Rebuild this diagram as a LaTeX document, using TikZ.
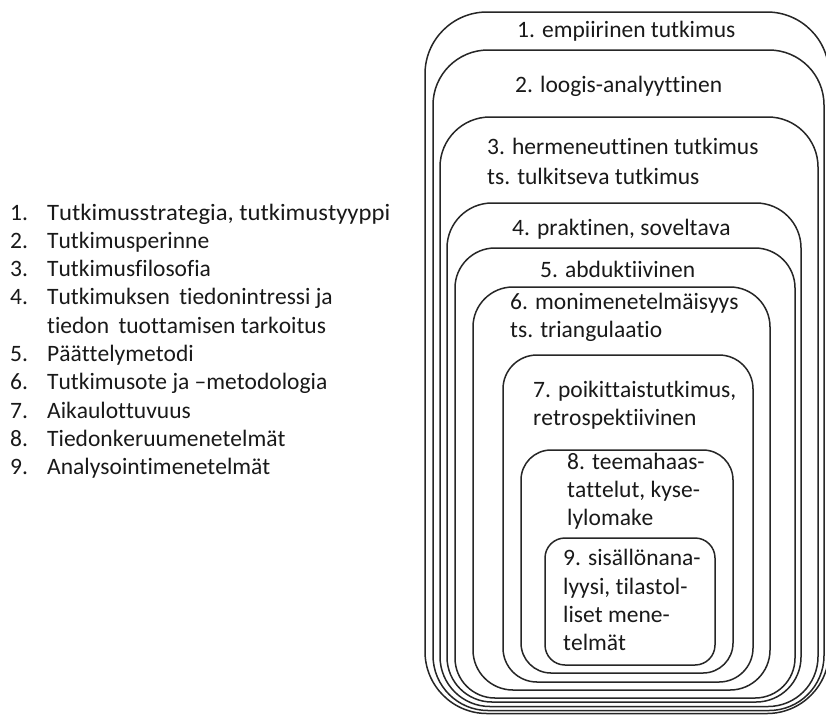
\documentclass[tikz,border=0pt]{standalone}
\usepackage{fontspec}
\setmainfont{Carlito}[Ligatures={NoCommon},Kerning=Off]
\begin{document}
\begin{tikzpicture}[x=1pt,y=-1pt,
  boxline/.style={draw=black!85,line width=1.5pt},
  txt/.style={anchor=base west,inner sep=0pt,text=black!90,font=\fontsize{23.5}{28.3}\selectfont}]
\useasboundingbox (0,0) rectangle (826,715);
\clip (0,0) rectangle (826,715);
\fill[white] (0,0) rectangle (826,715);
% nested boxes
\draw[boxline,rounded corners=62] (425,12) rectangle (829,713.5);
\draw[boxline,rounded corners=55] (433,50) rectangle (824,710.5);
\draw[boxline,rounded corners=50] (440,117) rectangle (818,706.5);
\draw[boxline,rounded corners=45] (447,203) rectangle (801,702);
\draw[boxline,rounded corners=40] (455,248) rectangle (795,698);
\draw[boxline,rounded corners=40] (473,287) rectangle (770,690);
\draw[boxline,rounded corners=34] (503,355) rectangle (753,682);
\draw[boxline,rounded corners=30] (521,450) rectangle (733,673);
\draw[boxline,rounded corners=20] (545,538) rectangle (715,665);
% box texts
\node[txt] (t1) at (517,37) {1. empiirinen tutkimus};
\node[txt] (t2) at (515,92) {2. loogis-analyyttinen};
\node[txt] (t3a) at (487,154) {3. hermeneuttinen tutkimus};
\node[txt] (t3b) at (487,184) {ts. tulkitseva tutkimus};
\node[txt] (t4) at (512,235) {4. praktinen, soveltava};
\node[txt] (t5) at (540,277) {5. abduktiivinen};
\node[txt] (t6a) at (510,309) {6. monimenetelmäisyys};
\node[txt] (t6b) at (510,337) {ts. triangulaatio};
\node[txt] (t7a) at (533,397) {7. poikittaistutkimus,};
\node[txt] (t7b) at (533,425) {retrospektiivinen};
\node[txt] (t8a) at (567,469) {8. teemahaas-};
\node[txt] (t8b) at (567,497) {tattelut, kyse-};
\node[txt] (t8c) at (567,525) {lylomake};
\node[txt] (t9a) at (563,565) {9. sisällönana-};
\node[txt] (t9b) at (563,594) {lyysi, tilastol-};
\node[txt] (t9c) at (563,622) {liset mene-};
\node[txt] (t9d) at (563,650) {telmät};
% left list
\node[txt] (n1) at (10,220) {1.};
\node[txt] (l1) at (47,220) {\scalebox{1.05}[1]{Tutkimusstrategia, tutkimustyyppi}};
\node[txt] (n2) at (10,248.3) {2.};
\node[txt] (l2) at (47,248.3) {Tutkimusperinne};
\node[txt] (n3) at (10,276.6) {3.};
\node[txt] (l3) at (47,276.6) {Tutkimusfilosofia};
\node[txt] (n4) at (10,304.9) {4.};
\node[txt] (l4) at (47,304.9) {Tutkimuksen\hspace{4pt} tiedonintressi ja};
\node[txt] (l4b) at (47,333.2) {tiedon\hspace{4pt} tuottamisen tarkoitus};
\node[txt] (n5) at (10,361.5) {5.};
\node[txt] (l5) at (47,361.5) {Päättelymetodi};
\node[txt] (n6) at (10,389.8) {6.};
\node[txt] (l6) at (47,389.8) {Tutkimusote ja –metodologia};
\node[txt] (n7) at (10,418.1) {7.};
\node[txt] (l7) at (47,418.1) {Aikaulottuvuus};
\node[txt] (n8) at (10,446.4) {8.};
\node[txt] (l8) at (47,446.4) {Tiedonkeruumenetelmät};
\node[txt] (n9) at (10,474.7) {9.};
\node[txt] (l9) at (47,474.7) {Analysointimenetelmät};
\end{tikzpicture}
\end{document}
